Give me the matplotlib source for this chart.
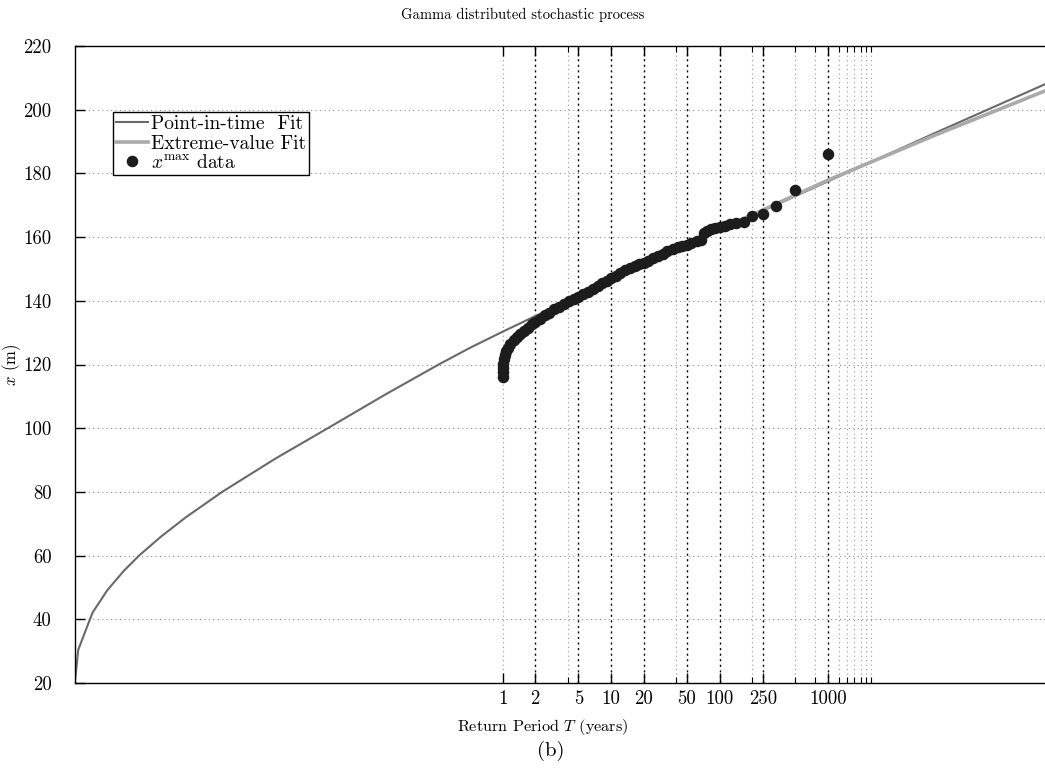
import matplotlib
matplotlib.use("Agg")
import matplotlib.pyplot as plt
from matplotlib.ticker import FixedLocator, NullFormatter, FixedFormatter

plt.rcParams["mathtext.fontset"] = "cm"
plt.rcParams["font.family"] = ["cmr10", "DejaVu Serif"]
plt.rcParams["axes.formatter.use_mathtext"] = True

# Point-in-time fit: return period (years) and level x (m)
pit_T = [1.1416e-4, 1.222e-4, 1.656e-4, 2.275e-4, 3.236e-4, 4.446e-4, 7.05e-4,
         1.197e-3, 2.596e-3, 8.07e-3, 2.59e-2, 8.31e-2, 0.2574, 0.504,
         1.0, 2.0, 10.0, 100.0, 1000.0, 1.0e4, 1.0e5]
pit_x = [20.4, 30.4, 42.1, 49.2, 55.3, 60.0, 65.9,
         72.0, 80.0, 90.5, 100.5, 110.6, 120.0, 125.3,
         130.3, 135.2, 146.4, 162.1, 177.5, 192.9, 208.0]

# Extreme-value fit
ev_T = [10.0, 20.0, 50.0, 100.0, 250.0, 1000.0, 1.0e4, 1.0e5]
ev_x = [147.0, 151.8, 157.4, 162.3, 168.5, 177.9, 192.2, 205.9]

# Annual maxima against their empirical return periods
data_T = [1.0, 1.003, 1.008, 1.015, 1.03, 1.05, 1.08, 1.12, 1.18, 1.26,
          1.35, 1.45, 1.56, 1.7, 1.85, 2.0, 2.2, 2.45, 2.7, 3.0,
          3.3, 3.7, 4.1, 4.5, 5.0, 5.5, 6.1, 6.8, 7.5, 8.3,
          9.1, 10.0, 11.0, 12.2, 13.5, 15.0, 16.5, 18.2, 20.0, 22.0,
          24.5, 27.0, 30.0, 33.0, 37.0, 41.0, 45.0, 50.0, 55.0, 62.5,
          66.7, 71.4, 76.9, 83.3, 90.9, 100.0, 111.1, 125.0, 142.9, 166.7,
          200.0, 250.0, 333.3, 500.0, 1000.0]
data_x = [116.2, 117.5, 119.0, 120.3, 121.8, 123.0, 124.2, 125.3, 126.4, 127.6,
          128.7, 129.7, 130.6, 131.6, 132.6, 133.5, 134.4, 135.4, 136.3, 137.3,
          138.1, 139.1, 140.0, 140.6, 141.2, 142.0, 142.9, 143.8, 144.6, 145.5,
          146.3, 147.1, 147.9, 148.8, 149.6, 150.4, 151.0, 151.5, 152.0, 152.6,
          153.3, 154.0, 154.8, 155.5, 156.3, 156.8, 157.1, 157.5, 158.0, 158.8,
          159.2, 161.3, 161.9, 162.4, 162.8, 163.2, 163.5, 164.0, 164.3, 164.8,
          166.6, 167.1, 169.8, 174.7, 186.0]

major_T = [1, 2, 5, 10, 20, 50, 100, 250, 1000]
major_labels = ["1", "2", "5", "10", "20", "50", "100", "250", "1000"]
minor_T = [4, 40, 200, 500, 750, 1250, 1500, 1750, 2000, 2250, 2500]
y_ticks = list(range(20, 221, 20))

fig = plt.figure(figsize=(10.45, 7.77), dpi=100)
ax = fig.add_axes([75 / 1045, 94 / 777, 970 / 1045, 637 / 777])
ax.set_xscale("log")
ax.set_xlim(1 / 8760, 1e5)
ax.set_ylim(20, 220)

# grid
for yv in y_ticks[1:-1]:
    ax.axhline(yv, color="0.55", lw=0.8, ls=(0, (1, 3)), zorder=0)
for tv in [1] + minor_T:
    ax.axvline(tv, color="0.6", lw=0.8, ls=(0, (1, 3)), zorder=0)
for tv in major_T[1:]:
    ax.axvline(tv, color="black", lw=1.0, ls=(0, (1.5, 2.5)), zorder=0)

ax.plot(pit_T, pit_x, color="#696969", lw=1.5, label="Point-in-time  Fit", zorder=2)
ax.plot(ev_T, ev_x, color="#aaaaaa", lw=2.6, label="Extreme-value Fit", zorder=3)
ax.plot(data_T, data_x, "o", color="#1c1c1c", ms=7.3, mec="#1c1c1c",
        label=r"$x^{\rm max}$ data", zorder=4)

ax.xaxis.set_major_locator(FixedLocator(major_T))
ax.xaxis.set_major_formatter(FixedFormatter(major_labels))
ax.xaxis.set_minor_locator(FixedLocator(minor_T))
ax.xaxis.set_minor_formatter(NullFormatter())
ax.yaxis.set_major_locator(FixedLocator(y_ticks))
ax.yaxis.set_major_formatter(FixedFormatter([str(v) for v in y_ticks]))

ax.tick_params(axis="both", which="major", direction="in", length=7, width=1,
               labelsize=13.5, color="black", top=True, right=False)
ax.tick_params(axis="x", which="major", pad=5)
ax.tick_params(axis="y", which="major", pad=17)
ax.tick_params(axis="x", which="minor", direction="in", length=4, width=0.8,
               top=True, bottom=True)
ax.spines["right"].set_visible(False)
for s in ["left", "top", "bottom"]:
    ax.spines[s].set_linewidth(1.0)

ax.set_xlabel(r"Return Period $T$ (years)", fontsize=11.7)
ax.xaxis.label.set_va("center")
ax.xaxis.set_label_coords((543 - 75) / 970, (683 - 727) / 637)
ax.set_ylabel(r"$x$ (m)", fontsize=12)
ax.yaxis.label.set_va("center")
ax.yaxis.set_label_coords((12 - 75) / 970, (683 - 365) / 637)

fig.text(0.5, 1 - 15 / 777, "Gamma distributed stochastic process",
         ha="center", va="center", fontsize=10.5)
fig.text(551 / 1045, 1 - 751 / 777, "(b)", ha="center", va="center", fontsize=15)

leg = ax.legend(loc="upper left", bbox_to_anchor=(38 / 970, (683 - 112) / 637),
                borderaxespad=0, fontsize=14, frameon=True, fancybox=False,
                framealpha=1, edgecolor="black", handlelength=1.65,
                handletextpad=0.15, labelspacing=0.09, borderpad=0.15)
leg.get_frame().set_linewidth(1.0)

fig.savefig("out.png", dpi=100)
